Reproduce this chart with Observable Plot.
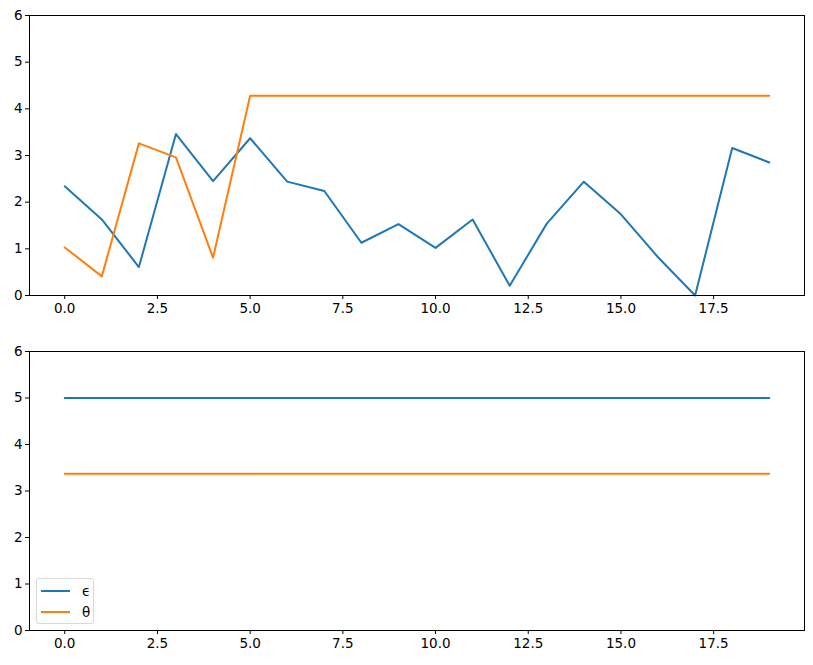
<!DOCTYPE html>
<html>
<head>
<meta charset="utf-8">
<script src="https://cdn.jsdelivr.net/npm/d3@7"></script>
<script src="https://cdn.jsdelivr.net/npm/@observablehq/plot@0.6"></script>
<style>
  html, body { margin: 0; padding: 0; background: #fff; }
  #wrap { position: relative; width: 813px; height: 665px; font-family: "DejaVu Sans", sans-serif; }
  #wrap svg { display: block; }
  .legend { position: absolute; left: 36px; top: 578px; width: 58px; height: 46px; border: 1px solid #d9d9d9; border-radius: 3px; background: rgba(255,255,255,0.8); box-sizing: border-box; font-size: 13.5px; }
  .legend .row { position: absolute; left: 4px; height: 16px; display: flex; align-items: center; }
  .legend .sw { width: 29px; height: 2px; margin-right: 12px; }
</style>
</head>
<body>
<div id="wrap"></div>
<script>
const steps = d3.range(20);
const epsilonTop = [2.34, 1.63, 0.61, 3.46, 2.45, 3.37, 2.44, 2.24, 1.13, 1.53, 1.02, 1.63, 0.21, 1.54, 2.44, 1.74, 0.82, 0.0, 3.16, 2.85];
const thetaTop = [1.03, 0.41, 3.26, 2.96, 0.81, 4.28, 4.28, 4.28, 4.28, 4.28, 4.28, 4.28, 4.28, 4.28, 4.28, 4.28, 4.28, 4.28, 4.28, 4.28];
const epsilonBottom = [5, 5, 5, 5, 5, 5, 5, 5, 5, 5, 5, 5, 5, 5, 5, 5, 5, 5, 5, 5];
const thetaBottom = [3.37, 3.37, 3.37, 3.37, 3.37, 3.37, 3.37, 3.37, 3.37, 3.37, 3.37, 3.37, 3.37, 3.37, 3.37, 3.37, 3.37, 3.37, 3.37, 3.37];
const xTicks = [0, 2.5, 5, 7.5, 10, 12.5, 15, 17.5];
const yTicks = [0, 1, 2, 3, 4, 5, 6];
const seriesNames = ["ϵ", "θ"];
const colors = ["#1f77b4", "#ff7f0e"];

function toRows(a, b) {
  return steps.flatMap(i => [
    {x: i, y: a[i], s: seriesNames[0]},
    {x: i, y: b[i], s: seriesNames[1]}
  ]);
}

function panel(rows, height, marginTop, marginBottom) {
  return Plot.plot({
    width: 813,
    height,
    marginLeft: 29,
    marginRight: 9,
    marginTop,
    marginBottom,
    style: {fontFamily: "DejaVu Sans, sans-serif", fontSize: "13.5px", color: "#000", background: "#fff"},
    x: {domain: [-0.95, 19.95], label: null},
    y: {domain: [0, 6], label: null},
    color: {domain: seriesNames, range: colors},
    marks: [
      Plot.line(rows, {x: "x", y: "y", z: "s", stroke: "s", strokeWidth: 2}),
      Plot.axisX({ticks: xTicks, tickFormat: d3.format(".1f"), tickSize: 4, tickPadding: 4, stroke: "#000", fill: "#000", label: null}),
      Plot.axisY({ticks: yTicks, tickFormat: d3.format("d"), tickSize: 4, tickPadding: 3, stroke: "#000", fill: "#000", label: null}),
      Plot.frame({stroke: "#000", strokeWidth: 1})
    ]
  });
}

const wrap = document.getElementById("wrap");
wrap.appendChild(panel(toRows(epsilonTop, thetaTop), 336, 15, 41));
wrap.appendChild(panel(toRows(epsilonBottom, thetaBottom), 329, 15, 35));

const legend = document.createElement("div");
legend.className = "legend";
seriesNames.forEach((n, i) => {
  const row = document.createElement("div");
  row.className = "row";
  row.style.top = (4 + i * 21) + "px";
  const sw = document.createElement("div");
  sw.className = "sw";
  sw.style.background = colors[i];
  const t = document.createElement("span");
  t.textContent = n;
  row.appendChild(sw);
  row.appendChild(t);
  legend.appendChild(row);
});
wrap.appendChild(legend);
</script>
</body>
</html>
